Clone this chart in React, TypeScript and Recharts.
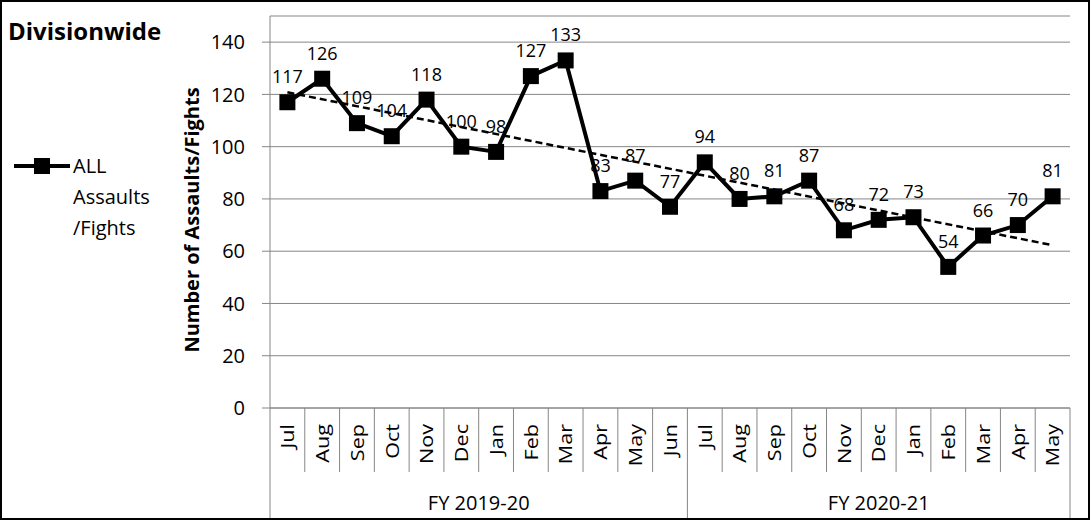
import React from "react";
import {
  LineChart,
  Line,
  XAxis,
  YAxis,
  CartesianGrid,
  LabelList,
} from "recharts";

const months = [
  "Jul", "Aug", "Sep", "Oct", "Nov", "Dec", "Jan", "Feb", "Mar", "Apr", "May", "Jun",
  "Jul", "Aug", "Sep", "Oct", "Nov", "Dec", "Jan", "Feb", "Mar", "Apr", "May",
];
const fiscalYears = ["FY 2019-20", "FY 2020-21"];
const assaults = [
  117, 126, 109, 104, 118, 100, 98, 127, 133, 83, 87, 77,
  94, 80, 81, 87, 68, 72, 73, 54, 66, 70, 81,
];
// dashed linear trend at its two ends
const trendEnds = [120.8, 62.3];
const yTicks = [0, 20, 40, 60, 80, 100, 120, 140];

const W = 1090;
const H = 520;
const M = { top: 16, right: 20, left: 0, bottom: 0 };
const Y_AXIS_W = 270;
const X_AXIS_H = 112;
const BAND = (W - M.left - M.right - Y_AXIS_W) / months.length;
const FONT = "'Open Sans', sans-serif";
const GRID = "#868686";

const data = months.map((m, i) => ({
  key: String(i),
  month: m,
  value: assaults[i],
  trend: i === 0 ? trendEnds[0] : i === months.length - 1 ? trendEnds[1] : null,
}));

// first index of each fiscal year group
const groupStarts = [0, 12];

function MonthTick(props: any) {
  const { x, y, index } = props;
  const left = x - BAND / 2;
  const isGroupEdge = groupStarts.includes(index);
  const last = index === months.length - 1;
  const nextStart = groupStarts.find((s) => s > index) ?? months.length;
  const groupIdx = groupStarts.filter((s) => s <= index).length - 1;
  const groupStart = groupStarts[groupIdx];
  const mid = (groupStart + nextStart - 1) / 2;
  const showGroup = Math.floor(mid) === index;
  return (
    <g>
      <line x1={left} x2={left} y1={y} y2={isGroupEdge ? H : y + 64} stroke={GRID} />
      {last && <line x1={x + BAND / 2} x2={x + BAND / 2} y1={y} y2={H} stroke={GRID} />}
      <text
        transform={`translate(${x}, ${y + 16}) rotate(-90) scale(1.2, 1)`}
        textAnchor="end"
        dominantBaseline="central"
        fontSize={18}
        fontFamily={FONT}
        fill="#000"
      >
        {months[index]}
      </text>
      {showGroup && (
        <text
          x={x + (mid - index) * BAND}
          y={y + 94}
          textAnchor="middle"
          dominantBaseline="central"
          fontSize={20}
          fontFamily={FONT}
          fill="#000"
        >
          {fiscalYears[groupIdx]}
        </text>
      )}
    </g>
  );
}

function SquareDot(props: any) {
  const { cx, cy } = props;
  if (cx == null || cy == null) return null;
  return <rect x={cx - 8} y={cy - 8} width={16} height={16} fill="#000" />;
}

function YTitle() {
  return (
    <text
      transform="translate(191, 220) rotate(-90)"
      textAnchor="middle"
      dominantBaseline="central"
      fontSize={20}
      fontWeight={700}
      fontFamily={FONT}
      fill="#000"
    >
      Number of Assaults/Fights
    </text>
  );
}

export default function App() {
  return (
    <div style={{ position: "fixed", left: 0, top: 0, width: W, height: H, background: "#fff" }}>
      <LineChart width={W} height={H} data={data} margin={M}>
        <CartesianGrid stroke={GRID} vertical={false} />
        <XAxis
          dataKey="key"
          scale="band"
          interval={0}
          height={X_AXIS_H}
          tickLine={false}
          tickSize={0}
          tickMargin={0}
          stroke={GRID}
          tick={<MonthTick />}
        />
        <YAxis
          domain={[0, 150]}
          ticks={yTicks}
          width={Y_AXIS_W}
          stroke={GRID}
          tickSize={8}
          tickMargin={17}
          tick={{ fill: "#000", fontSize: 20, fontFamily: FONT }}
          label={<YTitle />}
        />
        <Line
          dataKey="value"
          stroke="#000"
          strokeWidth={4}
          dot={<SquareDot />}
          isAnimationActive={false}
        >
          <LabelList
            dataKey="value"
            position="top"
            offset={19}
            fontSize={18}
            fontFamily={FONT}
            fill="#000"
          />
        </Line>
        <Line
          dataKey="trend"
          connectNulls
          stroke="#000"
          strokeWidth={2.5}
          strokeDasharray="7 4"
          dot={false}
          isAnimationActive={false}
        />
      </LineChart>
      <div
        style={{
          position: "absolute",
          left: 8,
          top: 14,
          fontFamily: FONT,
          fontWeight: 700,
          fontSize: 24,
          color: "#000",
        }}
      >
        Divisionwide
      </div>
      <div
        style={{
          position: "absolute",
          left: 12,
          top: 150,
          display: "flex",
          alignItems: "flex-start",
          fontFamily: FONT,
        }}
      >
        <svg width={60} height={32}>
          <line x1={2} x2={58} y1={16} y2={16} stroke="#000" strokeWidth={4} />
          <rect x={22} y={8} width={16} height={16} fill="#000" />
        </svg>
        <div style={{ fontSize: 20, lineHeight: "31px", color: "#000", marginLeft: 1 }}>
          ALL
          <br />
          Assaults
          <br />
          /Fights
        </div>
      </div>
      <div
        style={{
          position: "absolute",
          inset: 0,
          border: "2px solid #000",
          pointerEvents: "none",
        }}
      />
    </div>
  );
}
